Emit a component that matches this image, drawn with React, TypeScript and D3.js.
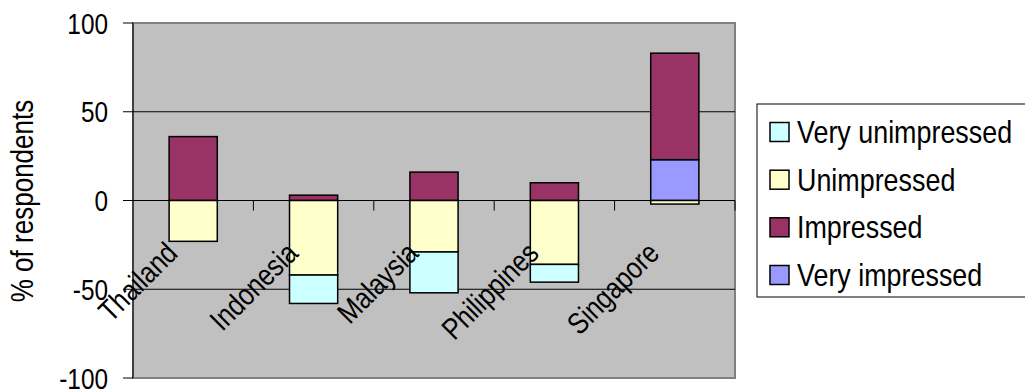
import React from "react";
import * as d3 from "d3";

const categories = ["Thailand", "Indonesia", "Malaysia", "Philippines", "Singapore"];
const veryUnimpressed = [0, -16, -23, -10, 0];
const unimpressed = [-23, -42, -29, -36, -2];
const impressed = [36, 3, 16, 10, 60];
const veryImpressed = [0, 0, 0, 0, 23];
const yTicks = [100, 50, 0, -50, -100];

const seriesNames = ["Very unimpressed", "Unimpressed", "Impressed", "Very impressed"];
const seriesColors = ["#CCFFFF", "#FFFFCC", "#993366", "#9999FF"];

const FONT = "'Liberation Sans', Arial, sans-serif";
const SX = 0.84;

function NText(props: { x: number; y: number; rotate?: number; size: number; anchor?: string; children: React.ReactNode }) {
  const { x, y, rotate = 0, size, anchor = "start", children } = props;
  return (
    <g transform={`translate(${x},${y}) rotate(${rotate}) scale(${SX},1)`}>
      <text x={0} y={0} textAnchor={anchor} fontSize={size} fill="#000">
        {children}
      </text>
    </g>
  );
}

export default function App() {
  const W = 1025, H = 390;
  const left = 133, right = 735, top = 23, bottom = 378;
  const x = d3.scaleBand<string>().domain(categories).range([left, right]).paddingInner(0.6).paddingOuter(0.3);
  const y = d3.scaleLinear().domain([-100, 100]).range([bottom, top]);
  const step = x.step();

  const rects: { x: number; y0: number; y1: number; color: string; key: string }[] = [];
  categories.forEach((c, i) => {
    let pos = 0;
    let neg = 0;
    const posSeries = [
      { v: veryImpressed[i], col: seriesColors[3], n: "vi" },
      { v: impressed[i], col: seriesColors[2], n: "im" },
    ];
    const negSeries = [
      { v: unimpressed[i], col: seriesColors[1], n: "un" },
      { v: veryUnimpressed[i], col: seriesColors[0], n: "vu" },
    ];
    posSeries.forEach((s) => {
      if (s.v !== 0) {
        rects.push({ x: x(c)!, y0: pos, y1: pos + s.v, color: s.col, key: c + s.n });
        pos += s.v;
      }
    });
    negSeries.forEach((s) => {
      if (s.v !== 0) {
        rects.push({ x: x(c)!, y0: neg, y1: neg + s.v, color: s.col, key: c + s.n });
        neg += s.v;
      }
    });
  });

  const legendX = 757, legendTop = 104, legendBottom = 297;
  const rowY = [132, 179.7, 227.3, 275];

  return (
    <svg width={W} height={H} style={{ position: "absolute", left: 0, top: 0, background: "#fff" }} fontFamily={FONT}>
      <rect x={left} y={top} width={right - left} height={bottom - top} fill="#C0C0C0" stroke="#808080" strokeWidth={2} />
      {yTicks.filter((t) => t !== 100 && t !== -100 && t !== 0).map((t) => (
        <line key={"g" + t} x1={left} x2={right} y1={y(t)} y2={y(t)} stroke="#000" strokeWidth={1} />
      ))}
      {rects.map((r) => (
        <rect
          key={r.key}
          x={r.x}
          y={y(Math.max(r.y0, r.y1))}
          width={x.bandwidth()}
          height={Math.abs(y(r.y0) - y(r.y1))}
          fill={r.color}
          stroke="#000"
          strokeWidth={1.5}
        />
      ))}
      <line x1={left} x2={right} y1={y(0)} y2={y(0)} stroke="#000" strokeWidth={1} />
      {d3.range(1, categories.length + 1).map((i) => (
        <line key={"ct" + i} x1={left + step * i} x2={left + step * i} y1={y(0)} y2={y(0) + 10} stroke="#000" strokeWidth={1} />
      ))}
      <line x1={left} x2={left} y1={top} y2={bottom} stroke="#000" strokeWidth={1} />
      {yTicks.map((t) => (
        <g key={"yt" + t}>
          <line x1={left - 10} x2={left} y1={y(t)} y2={y(t)} stroke="#000" strokeWidth={1} />
          <NText x={108} y={y(t) + 10.5} size={29} anchor="end">
            {t}
          </NText>
        </g>
      ))}
      <NText x={33} y={201} rotate={-90} size={31} anchor="middle">
        % of respondents
      </NText>
      {categories.map((c) => {
        const cx = x(c)! + x.bandwidth() / 2;
        return (
          <NText key={"cl" + c} x={cx - 14} y={255} rotate={-45} size={30} anchor="end">
            {c}
          </NText>
        );
      })}
      <rect x={legendX} y={legendTop} width={W - legendX + 10} height={legendBottom - legendTop} fill="#fff" stroke="#000" strokeWidth={1} />
      {seriesNames.map((n, i) => (
        <g key={"lg" + n}>
          <rect x={770} y={rowY[i] - 9.5} width={19} height={19} fill={seriesColors[i]} stroke="#000" strokeWidth={1.5} />
          <NText x={797} y={rowY[i] + 11} size={32}>
            {n}
          </NText>
        </g>
      ))}
    </svg>
  );
}
